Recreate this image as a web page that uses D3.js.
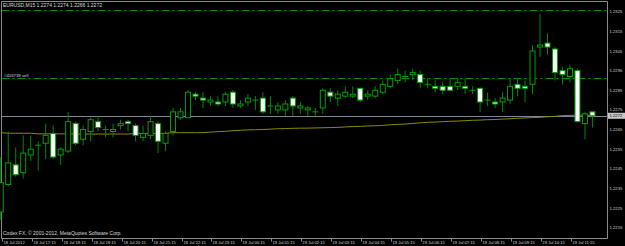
<!DOCTYPE html>
<html><head><meta charset="utf-8">
<script src="https://cdn.jsdelivr.net/npm/d3@7"></script>
<style>html,body{margin:0;padding:0;background:#000;overflow:hidden}svg{display:block}</style>
</head><body>
<svg id="c" width="625" height="246"></svg>
<script>
// ---------- DATA ----------
const symbol = "EURUSD,M15";
const opens  = [1.2223,1.2237,1.2247,1.2243,1.2252,1.2257,1.2258,1.2263,1.2252,1.2254,
                1.2268,1.2260,1.2264,1.2269,1.2265,1.2264,1.2267,1.2269,1.2267,1.2261,
                1.2262,1.2268,1.2258,1.2264,1.2271,1.2271,1.2283,1.2281,1.2279,1.2279,
                1.2279,1.2284,1.2277,1.2279,1.2280,1.2281,1.2277,1.2275,1.2275,1.2281,
                1.2276,1.2275,1.2274,1.2276,1.2284,1.2281,1.2282,1.2282,1.2286,1.2282,
                1.2282,1.2284,1.2287,1.2290,1.2292,1.2293,1.2293,1.2288,1.2287,1.2287,
                1.2287,1.2287,1.2287,1.2285,1.2286,1.2280,1.2279,1.2279,1.2280,1.2288,
                1.2287,1.2288,1.2307,1.2309,1.2306,1.2295,1.2292,1.2295,1.2268,1.2274];
const highs  = [1.2251,1.2264,1.2256,1.2262,1.2262,1.2259,1.2268,1.2267,1.2256,1.2274,
                1.2269,1.2267,1.2271,1.2272,1.2267,1.2268,1.2270,1.2270,1.2268,1.2267,
                1.2272,1.2269,1.2264,1.2276,1.2276,1.2285,1.2284,1.2284,1.2282,1.2282,
                1.2284,1.2285,1.2280,1.2283,1.2282,1.2284,1.2282,1.2279,1.2280,1.2282,
                1.2279,1.2277,1.2276,1.2286,1.2286,1.2285,1.2287,1.2287,1.2286,1.2285,
                1.2287,1.2290,1.2293,1.2296,1.2295,1.2296,1.2295,1.2291,1.2290,1.2289,
                1.2291,1.2291,1.2291,1.2287,1.2286,1.2284,1.2281,1.2284,1.2291,1.2291,
                1.2290,1.2308,1.2324,1.2314,1.2307,1.2297,1.2298,1.2296,1.2274,1.2274];
const lows   = [1.2219,1.2236,1.2241,1.2240,1.2249,1.2244,1.2250,1.2250,1.2247,1.2253,
                1.2257,1.2257,1.2259,1.2264,1.2261,1.2261,1.2265,1.2264,1.2259,1.2259,
                1.2260,1.2253,1.2254,1.2262,1.2270,1.2271,1.2280,1.2276,1.2277,1.2277,
                1.2277,1.2276,1.2276,1.2277,1.2275,1.2273,1.2273,1.2273,1.2272,1.2272,
                1.2273,1.2272,1.2272,1.2273,1.2279,1.2277,1.2281,1.2281,1.2279,1.2280,
                1.2281,1.2283,1.2286,1.2288,1.2289,1.2290,1.2286,1.2286,1.2284,1.2283,
                1.2285,1.2285,1.2283,1.2283,1.2274,1.2277,1.2276,1.2274,1.2278,1.2282,
                1.2279,1.2283,1.2302,1.2303,1.2290,1.2288,1.2289,1.2269,1.2260,1.2266];
const closes = [1.2238,1.2248,1.2242,1.2253,1.2255,1.2257,1.2262,1.2251,1.2255,1.2269,
                1.2258,1.2265,1.2270,1.2266,1.2265,1.2265,1.2268,1.2268,1.2262,1.2263,
                1.2269,1.2259,1.2263,1.2274,1.2274,1.2284,1.2282,1.2280,1.2280,1.2278,
                1.2283,1.2278,1.2278,1.2281,1.2280,1.2274,1.2277,1.2277,1.2278,1.2277,
                1.2277,1.2276,1.2274,1.2285,1.2282,1.2283,1.2284,1.2283,1.2280,1.2283,
                1.2285,1.2288,1.2291,1.2293,1.2292,1.2294,1.2289,1.2288,1.2286,1.2285,
                1.2285,1.2289,1.2286,1.2285,1.2279,1.2280,1.2278,1.2281,1.2287,1.2286,
                1.2286,1.2305,1.2308,1.2307,1.2294,1.2293,1.2296,1.2269,1.2273,1.2272];
const maValues = [1.22634,1.22631,1.22631,1.22631,1.22631,1.22628,1.22628,1.22628,1.22628,1.22628,
                  1.22627,1.22627,1.22627,1.22627,1.22627,1.22627,1.22627,1.22627,1.22630,1.22630,
                  1.22630,1.22630,1.22630,1.22634,1.22634,1.22634,1.22634,1.22634,1.22637,1.22639,
                  1.22641,1.22644,1.22646,1.22648,1.22649,1.22650,1.22652,1.22654,1.22655,1.22656,
                  1.22657,1.22657,1.22658,1.22659,1.22660,1.22661,1.22663,1.22665,1.22666,1.22668,
                  1.22669,1.22671,1.22674,1.22676,1.22678,1.22681,1.22684,1.22687,1.22688,1.22690,
                  1.22692,1.22693,1.22695,1.22697,1.22698,1.22700,1.22701,1.22703,1.22705,1.22707,
                  1.22709,1.22711,1.22712,1.22715,1.22717,1.22721,1.22722,1.22723,1.22723,1.22722];
const timeLabels = ["18 Jul 2012","18 Jul 17:15","18 Jul 18:15","18 Jul 19:15","18 Jul 20:15",
                    "18 Jul 21:15","18 Jul 22:15","18 Jul 23:15","19 Jul 00:15","19 Jul 01:15",
                    "19 Jul 02:15","19 Jul 03:15","19 Jul 04:15","19 Jul 05:15","19 Jul 06:15",
                    "19 Jul 07:15","19 Jul 08:15","19 Jul 09:15","19 Jul 10:15","19 Jul 11:15"];
const timeLabelBars = [0,4,8,12,16,20,24,28,32,36,40,44,48,52,56,60,64,68,72,76];
const yTickValues = [1.2325,1.2315,1.2305,1.2295,1.2285,1.2275,1.2265,1.2255,1.2245,1.2235,1.2225,1.2215];
const yTickLabels = ["1.2325","1.2315","1.2305","1.2296","1.2285","1.2275","1.2265","1.2255","1.2245","1.2235","1.2225","1.2215"];
const orderLevels = [1.2326, 1.2291];
const orderLabel = "#416739 sell";
const bidPrice = 1.2272;
const copyright = "Codex FX, \u00a9 2001-2012, MetaQuotes Software Corp.";

// ---------- CHART ----------
const W = 625, H = 246;
const plotL = 1.5, plotR = 607.5, plotT = 1.5, plotB = 238.5;
const FONT = "'Liberation Sans', Arial, sans-serif";
const svg = d3.select("#c");
svg.append("rect").attr("width", W).attr("height", H).attr("fill", "#000");

const x = d3.scaleLinear().domain([0, 79]).range([0.74, 592.45]);
const y = d3.scaleLinear().domain([1.2215, 1.2325]).range([227.7, 11.7]);

// frame
svg.append("path")
  .attr("d", `M${plotL},${plotT}H${plotR}V${plotB}H${plotL}Z`)
  .attr("fill", "none").attr("stroke", "#8a8a8a").attr("stroke-width", 1);

const plot = svg.append("g");

// order levels (dash-dot)
plot.selectAll("line.lvl").data(orderLevels).join("line")
  .attr("x1", plotL).attr("x2", plotR)
  .attr("y1", d => Math.round(y(d)) + 0.5).attr("y2", d => Math.round(y(d)) + 0.5)
  .attr("stroke", "#009000").attr("stroke-width", 1)
  .attr("stroke-dasharray", "8,3,2,3");
plot.append("text").attr("x", 4).attr("y", Math.round(y(orderLevels[1])) - 1.5)
  .attr("font-family", FONT).attr("font-size", 4.3).attr("fill", "#d8d8d8")
  .text(orderLabel);

// bid line
plot.append("line").attr("x1", plotL).attr("x2", plotR)
  .attr("y1", Math.round(y(bidPrice)) + 0.5).attr("y2", Math.round(y(bidPrice)) + 0.5)
  .attr("stroke", "#778899").attr("stroke-width", 1);

// moving average
plot.append("path").datum(maValues)
  .attr("d", d3.line().x((d, i) => x(i)).y(d => y(d)))
  .attr("fill", "none").attr("stroke", "#8b8b00").attr("stroke-width", 1);

// candles
const bars = d3.range(opens.length).map(i => ({i, o: opens[i], h: highs[i], l: lows[i], c: closes[i]}));
const cg = plot.append("g");
cg.selectAll("line.wick").data(bars).join("line")
  .attr("x1", d => x(d.i)).attr("x2", d => x(d.i))
  .attr("y1", d => y(d.h)).attr("y2", d => y(d.l))
  .attr("stroke", "#008800").attr("stroke-width", 1);
cg.selectAll("rect.body").data(bars.filter(d => d.o !== d.c)).join("rect")
  .attr("x", d => x(d.i) - 2.5).attr("width", 5)
  .attr("y", d => y(Math.max(d.o, d.c)))
  .attr("height", d => Math.max(1, Math.abs(y(d.o) - y(d.c))))
  .attr("fill", d => d.c < d.o ? "#ffffff" : "#000000")
  .attr("stroke", "#00a000").attr("stroke-width", 1);
cg.selectAll("line.doji").data(bars.filter(d => d.o === d.c)).join("line")
  .attr("x1", d => x(d.i) - 3).attr("x2", d => x(d.i) + 3)
  .attr("y1", d => y(d.o)).attr("y2", d => y(d.o))
  .attr("stroke", "#00a000").attr("stroke-width", 1);

// title
const last = bars[bars.length - 1];
svg.append("text").attr("x", 3).attr("y", 6.5)
  .attr("font-family", FONT).attr("font-size", 5).attr("fill", "#d8d8d8")
  .text(`${symbol}  ${last.o.toFixed(4)} ${last.h.toFixed(4)} ${last.l.toFixed(4)} ${last.c.toFixed(4)}`);

// copyright
svg.append("text").attr("x", 3).attr("y", 235.3)
  .attr("font-family", FONT).attr("font-size", 5).attr("fill", "#d8d8d8")
  .text(copyright);

// time axis
const tg = svg.append("g");
tg.selectAll("line").data(timeLabelBars).join("line")
  .attr("x1", d => Math.round(x(d)) + 1.5).attr("x2", d => Math.round(x(d)) + 1.5)
  .attr("y1", plotB).attr("y2", plotB + 3)
  .attr("stroke", "#8a8a8a").attr("stroke-width", 1);
tg.selectAll("text").data(timeLabelBars).join("text")
  .attr("x", d => Math.round(x(d)) + 2.5).attr("y", 243.5)
  .attr("font-family", FONT).attr("font-size", 4.1).attr("fill", "#d0d0d0")
  .text((d, i) => timeLabels[i]);

// price axis
const pg = svg.append("g");
pg.selectAll("text").data(yTickValues).join("text")
  .attr("x", 609.5).attr("y", d => y(d) + 1.6)
  .attr("font-family", FONT).attr("font-size", 4.2).attr("fill", "#d0d0d0")
  .text((d, i) => yTickLabels[i]);

// current price tag
const by = y(bidPrice);
pg.append("rect").attr("x", 608).attr("y", by - 3).attr("width", 17).attr("height", 6)
  .attr("fill", "#c8c8c8");
pg.append("text").attr("x", 609.5).attr("y", by + 1.6)
  .attr("font-family", FONT).attr("font-size", 4.2).attr("fill", "#000")
  .text(bidPrice.toFixed(4));
</script>
</body></html>
